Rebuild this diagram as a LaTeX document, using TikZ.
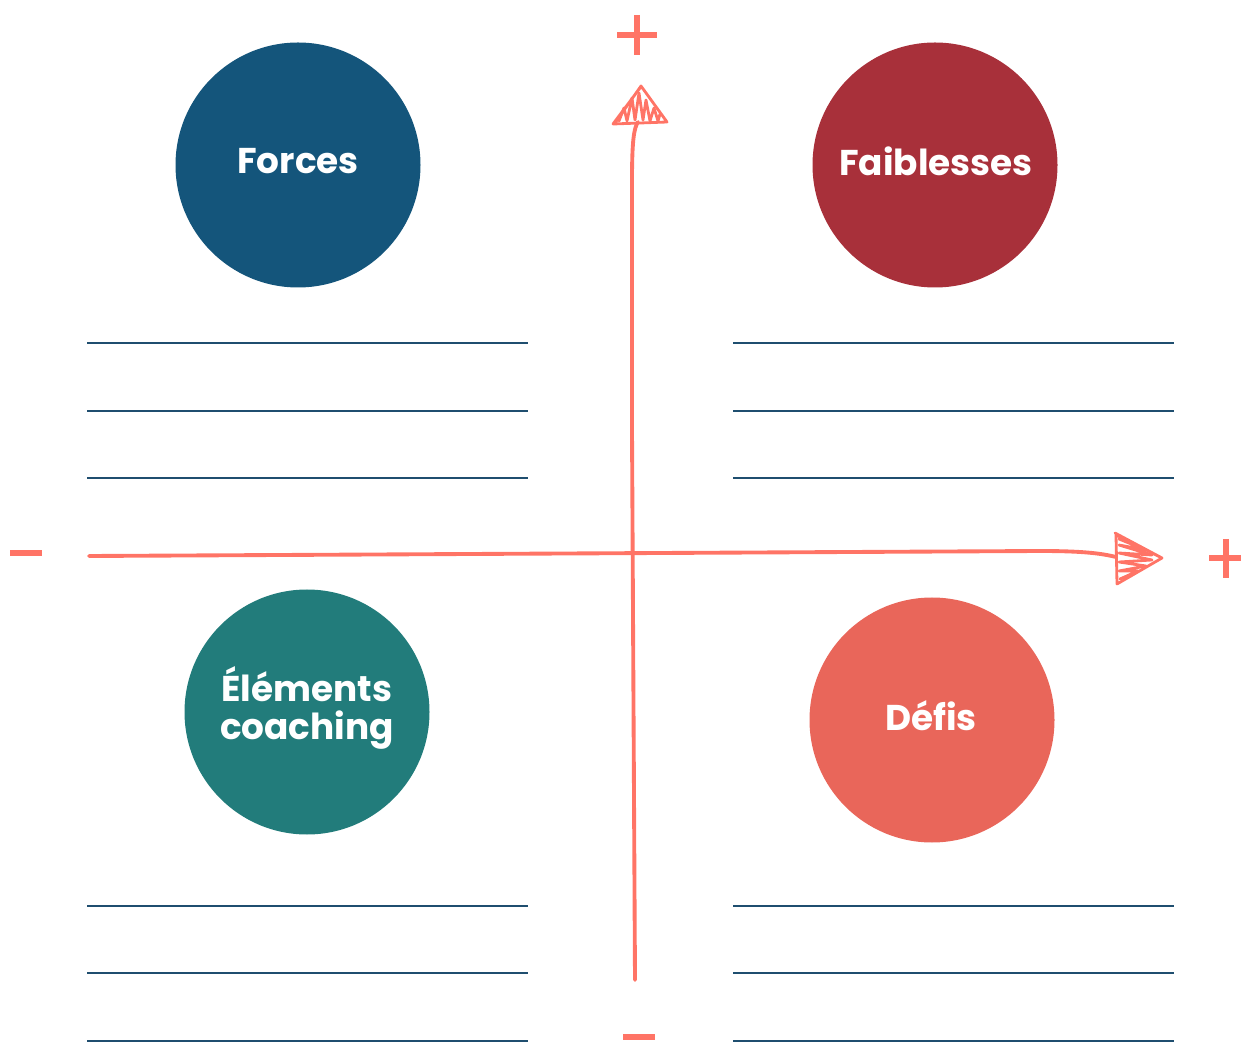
\documentclass[tikz,border=0pt]{standalone}
\usepackage{fontspec}
\setmainfont{Poppins}
\usepackage{xcolor}
\usetikzlibrary{shapes.misc}

\definecolor{forcesblue}{HTML}{14557B}
\definecolor{faibred}{HTML}{A8303A}
\definecolor{elemteal}{HTML}{227C7B}
\definecolor{defiscoral}{HTML}{E9665A}
\definecolor{axiscoral}{HTML}{FF7466}
\definecolor{rulenavy}{HTML}{1F4E6F}

\tikzset{
  bubble/.style={circle, minimum size=245*0.02cm, inner sep=0pt},
  bubbletext/.style={text=white, font=\bfseries\fontsize{20.4}{22}\selectfont, align=center},
  writeline/.style={rulenavy, line width=0.9pt},
  axisline/.style={axiscoral, line width=2.2pt, line cap=round},
  sketch/.style={axiscoral, line width=1.6pt, line cap=round, line join=round},
  sign/.style={axiscoral, line width=3.6pt}
}

\begin{document}
\begin{tikzpicture}[x=0.02cm, y=-0.02cm]
    \useasboundingbox (0,0) rectangle (1241,1043);

    \node[bubble, fill=forcesblue] (forces) at (298,165) {};
    \node[bubbletext] (forcestxt) at (298,161) {Forces};
    \node[bubble, fill=faibred] (faiblesses) at (935,165) {};
    \node[bubbletext] (faiblessestxt) at (936,161) {Faiblesses};
    \node[bubble, fill=elemteal] (elements) at (307,712) {};
    \node[bubbletext] (elementstxt) at (307,708) {Éléments\\coaching};
    \node[bubble, fill=defiscoral] (defis) at (932,720) {};
    \node[bubbletext] (defistxt) at (931,716) {Défis};

    % lignes a remplir
    \foreach \y in {343, 411, 478, 906, 973, 1041} {
        \draw[writeline] (87,\y) -- (528,\y);
        \draw[writeline] (733,\y) -- (1174,\y);
    }

    % axes
    \coordinate (vbottom) at (635,980);
    \coordinate (vtop) at (638,122);
    \coordinate (hleft) at (89,556);
    \coordinate (hright) at (1116,557);
    \draw[axisline] (vbottom) -- (632,430) -- (632,180) .. controls (632,140) and (634,128) .. (vtop);
    \draw[axisline] (hleft) -- (1040,551) .. controls (1080,551) and (1100,553) .. (hright);

    % pointes dessinees
    \coordinate (vtip) at (641,86);
    \draw[sketch] (615,123) -- (vtip) -- (667,122) -- (613,124) -- (640,88);
    \draw[sketch] (619,121) -- (624,108) -- (627,121) -- (632,98) -- (635,120)
        -- (639,93) -- (643,120) -- (646,100) -- (650,121) -- (654,108) -- (658,121) -- (660,114);
    \coordinate (htip) at (1162,558);
    \draw[sketch] (1115,533) -- (htip) -- (1117,584) -- (1116,535) -- (1160,557);
    \draw[sketch] (1119,539) -- (1146,550) -- (1119,545) -- (1152,555)
        -- (1119,553) -- (1152,560) -- (1119,562) -- (1146,566) -- (1119,571) -- (1138,571) -- (1120,579);

    % signes
    \node[inner sep=0pt] (vplus) at (637,35) {};
    \draw[sign] (617,35) -- (657,35) (637,15) -- (637,55);
    \node[inner sep=0pt] (hplus) at (1226,558) {};
    \draw[sign] (1209,558) -- (1243,558) (1226,539) -- (1226,578);
    \node[inner sep=0pt] (hminus) at (26,553) {};
    \draw[sign] (10,553) -- (42,553);
    \node[inner sep=0pt] (vminus) at (639,1037) {};
    \draw[sign] (623,1037) -- (655,1037);
\end{tikzpicture}
\end{document}
